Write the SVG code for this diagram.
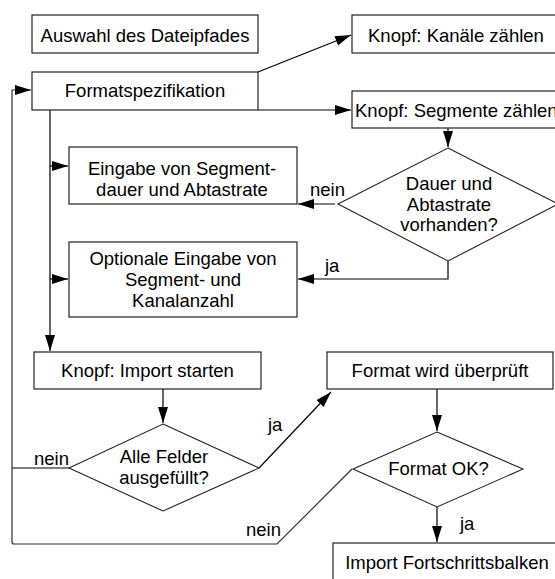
<svg xmlns="http://www.w3.org/2000/svg" width="555" height="579" viewBox="0 0 555 579">
<defs>
<style>
.box{fill:#fff;stroke:#222;stroke-width:1.2}
.dia{fill:#fff;stroke:#222;stroke-width:1.1}
.t{font-family:"Liberation Sans",Arial,sans-serif;font-size:18.5px;fill:#000;text-anchor:middle}
.l{font-family:"Liberation Sans",Arial,sans-serif;font-size:18.5px;fill:#000}
.c{fill:none;stroke:#000;stroke-width:1.2}
.loop{fill:none;stroke:#333;stroke-width:1.2}
</style>
<marker id="ah" markerUnits="userSpaceOnUse" markerWidth="17" markerHeight="11" refX="16" refY="5" orient="auto">
<path d="M0,0 L16,5 L0,10 z" fill="#000"/>
</marker>
</defs>
<rect width="555" height="579" fill="#fff"/>
<g id="connectors">
<path class="c" d="M258,72 L351,35" marker-end="url(#ah)"/>
<path class="c" d="M258,110 L351,110" marker-end="url(#ah)"/>
<path class="c" d="M448,128 L448,147" marker-end="url(#ah)"/>
<path class="c" d="M335,204 L298,204" marker-end="url(#ah)"/>
<path class="c" d="M448,261 L448,279 L298,279" marker-end="url(#ah)"/>
<path class="c" d="M50,110 L50,351" marker-end="url(#ah)"/>
<path class="c" d="M50,166 L68,166" marker-end="url(#ah)"/>
<path class="c" d="M50,279 L68,279" marker-end="url(#ah)"/>
<path class="c" d="M163,389 L163,423" marker-end="url(#ah)"/>
<path class="c" d="M69,468 L12,468"/>
<path class="c" d="M259,468 L331,392" marker-end="url(#ah)"/>
<path class="c" d="M437,389 L437,431" marker-end="url(#ah)"/>
<path class="c" d="M437,507 L437,542" marker-end="url(#ah)"/>
<path class="loop" d="M352,469 L277,544 L14,544 Q12,544 12,542 L12,90 L31,90" marker-end="url(#ah)"/>
<text class="l" x="310" y="196">nein</text>
<text class="l" x="325" y="272">ja</text>
<text class="l" x="34" y="465">nein</text>
<text class="l" x="268" y="431">ja</text>
<text class="l" x="246" y="536">nein</text>
<text class="l" x="460" y="530">ja</text>
</g>
<g id="auswahl">
<rect class="box" x="32" y="15" width="226" height="38"/>
<text class="t" x="145" y="42">Auswahl des Dateipfades</text>
</g>
<g id="formatspezifikation">
<rect class="box" x="32" y="72" width="226" height="38"/>
<text class="t" x="145" y="97">Formatspezifikation</text>
</g>
<g id="kanaele">
<rect class="box" x="352" y="15" width="210" height="38"/>
<text class="l" x="368" y="42">Knopf: Kanäle zählen</text>
</g>
<g id="segmente">
<rect class="box" x="352" y="91" width="210" height="37"/>
<text class="l" x="355" y="117">Knopf: Segmente zählen</text>
</g>
<g id="eingabe">
<rect class="box" x="69" y="147" width="228" height="57"/>
<text class="t" x="182" y="175">Eingabe von Segment-</text>
<text class="t" x="182" y="196">dauer und Abtastrate</text>
</g>
<g id="dauer">
<polygon class="dia" points="448,148 558,204 448,261 338,204"/>
<text class="t" x="449" y="190">Dauer und</text>
<text class="t" x="449" y="211">Abtastrate</text>
<text class="t" x="449" y="231">vorhanden?</text>
</g>
<g id="optionale">
<rect class="box" x="69" y="242" width="228" height="75"/>
<text class="t" x="183" y="265">Optionale Eingabe von</text>
<text class="t" x="183" y="286">Segment- und</text>
<text class="t" x="183" y="307">Kanalanzahl</text>
</g>
<g id="import">
<rect class="box" x="34" y="352" width="227" height="37"/>
<text class="t" x="147.5" y="377">Knopf: Import starten</text>
</g>
<g id="felder">
<polygon class="dia" points="163,424 259,468 163,511 69,468"/>
<text class="t" x="164" y="463">Alle Felder</text>
<text class="t" x="164" y="484">ausgefüllt?</text>
</g>
<g id="pruefung">
<rect class="box" x="327" y="352" width="226" height="37"/>
<text class="t" x="440" y="377">Format wird überprüft</text>
</g>
<g id="formatok">
<polygon class="dia" points="437,432 523,469 437,507 353,469"/>
<text class="t" x="438.5" y="475">Format OK?</text>
</g>
<g id="fortschritt">
<rect class="box" x="333" y="543" width="230" height="45"/>
<text class="t" x="447" y="569">Import Fortschrittsbalken</text>
</g>
</svg>
